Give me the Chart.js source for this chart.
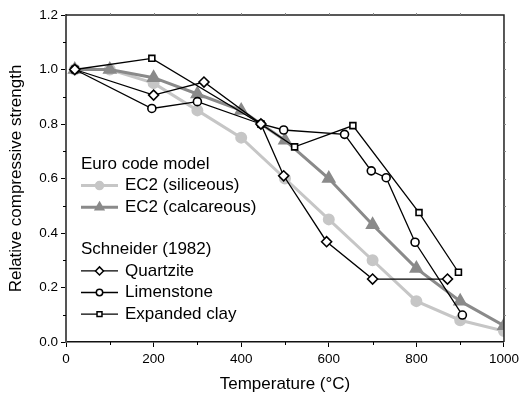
<!DOCTYPE html>
<html>
<head>
<meta charset="utf-8">
<script src="https://cdn.jsdelivr.net/npm/chart.js@4.4.0/dist/chart.umd.min.js"></script>
<style>
  html, body { margin: 0; padding: 0; background: #fff; }
  #wrap { width: 523px; height: 397px; }
</style>
</head>
<body>
<div id="wrap"><canvas id="strengthChart" width="523" height="397"></canvas></div>
<script>
// Euro code model curves
var ec2Temps = [20, 100, 200, 300, 400, 500, 600, 700, 800, 900, 1000];
var ec2Siliceous = [1.0, 1.0, 0.95, 0.85, 0.75, 0.60, 0.45, 0.30, 0.15, 0.08, 0.04];
var ec2Calcareous = [1.0, 1.0, 0.97, 0.91, 0.85, 0.74, 0.60, 0.43, 0.27, 0.15, 0.06];

// Schneider (1982) measurements
var quartziteTemps = [20, 200, 315, 445, 497, 595, 700, 871];
var quartziteVals = [1.0, 0.906, 0.954, 0.80, 0.61, 0.368, 0.231, 0.231];
var limestoneTemps = [20, 196, 300, 445, 497, 636, 697, 731, 797, 905];
var limestoneVals = [1.0, 0.857, 0.882, 0.80, 0.778, 0.762, 0.628, 0.603, 0.366, 0.099];
var clayTemps = [20, 196, 445, 522, 655, 806, 896];
var clayVals = [1.0, 1.041, 0.80, 0.716, 0.794, 0.475, 0.256];

var xTickLabels = ['0', '200', '400', '600', '800', '1000'];
var yTickLabels = ['0.0', '0.2', '0.4', '0.6', '0.8', '1.0', '1.2'];

var FONT = "'Liberation Sans', Arial, sans-serif";
var LIGHT = '#c6c6c6';
var MID = '#8a8a8a';

function pts(xs, ys) {
    return xs.map(function (x, i) { return { x: x, y: ys[i] }; });
}

var legendItems = [
    { header: 'Euro code model' },
    { label: 'EC2 (siliceous)', color: LIGHT, width: 3, style: 'circle', fill: LIGHT, r: 4 },
    { label: 'EC2 (calcareous)', color: MID, width: 3, style: 'triangle', fill: MID, r: 5 },
    { gap: true },
    { header: 'Schneider (1982)' },
    { label: 'Quartzite', color: '#000', width: 1.3, style: 'rectRot', fill: '#fff', r: 4 },
    { label: 'Limenstone', color: '#000', width: 1.3, style: 'circle', fill: '#fff', r: 3.2 },
    { label: 'Expanded clay', color: '#000', width: 1.3, style: 'rect', fill: '#fff', r: 3.5 }
];

// frame, minor ticks and grouped legend
var decorPlugin = {
    id: 'decor',
    afterDraw: function (chart) {
        var ctx = chart.ctx;
        var a = chart.chartArea;
        var xs = chart.scales.x, ys = chart.scales.y;
        ctx.save();
        ctx.strokeStyle = '#000';
        ctx.lineWidth = 1;
        var v, p;
        for (v = 100; v < 1000; v += 200) {
            p = Math.round(xs.getPixelForValue(v)) + 0.5;
            ctx.beginPath(); ctx.moveTo(p, a.bottom); ctx.lineTo(p, a.bottom + 3); ctx.stroke();
        }
        for (v = 1; v < 12; v += 2) {
            p = Math.round(ys.getPixelForValue(v / 10)) + 0.5;
            ctx.beginPath(); ctx.moveTo(a.left, p); ctx.lineTo(a.left - 3, p); ctx.stroke();
        }
        // top and right frame
        ctx.strokeStyle = '#222';
        ctx.lineWidth = 1.5;
        ctx.beginPath();
        ctx.moveTo(a.left, a.top); ctx.lineTo(a.right, a.top); ctx.lineTo(a.right, a.bottom);
        ctx.stroke();
        ctx.strokeStyle = '#888';
        ctx.lineWidth = 1;
        for (v = 100; v < 1000; v += 100) {
            p = Math.round(xs.getPixelForValue(v)) + 0.5;
            ctx.beginPath(); ctx.moveTo(p, a.top); ctx.lineTo(p, a.top - 2); ctx.stroke();
        }
        for (v = 1; v < 12; v += 1) {
            p = Math.round(ys.getPixelForValue(v / 10)) + 0.5;
            ctx.beginPath(); ctx.moveTo(a.right, p); ctx.lineTo(a.right + 2, p); ctx.stroke();
        }

        // legend
        var lx = a.left + 15;
        var ly = a.top + 149;
        var step = 21.6;
        ctx.font = '17px ' + FONT;
        ctx.textBaseline = 'middle';
        ctx.fillStyle = '#000';
        legendItems.forEach(function (it) {
            if (it.header) {
                ctx.fillText(it.header, lx, ly);
            } else if (it.label) {
                ctx.strokeStyle = it.color;
                ctx.lineWidth = it.width;
                ctx.beginPath(); ctx.moveTo(lx, ly); ctx.lineTo(lx + 37, ly); ctx.stroke();
                ctx.fillStyle = it.fill;
                ctx.strokeStyle = it.fill === '#fff' ? '#000' : it.fill;
                ctx.lineWidth = 1.5;
                Chart.helpers.drawPoint(ctx, {
                    pointStyle: it.style, radius: it.r, borderWidth: 1.5, rotation: 0
                }, lx + 18.5, ly);
                ctx.fillStyle = '#000';
                ctx.fillText(it.label, lx + 44, ly);
            }
            ly += it.gap ? step * 0.95 : step;
        });
        ctx.restore();
    }
};

var blackSet = function (label, xs, ys, style, r, order) {
    return {
        label: label,
        data: pts(xs, ys),
        borderColor: '#000',
        borderWidth: 1.3,
        pointStyle: style,
        pointRadius: r,
        pointBackgroundColor: '#fff',
        pointBorderColor: '#000',
        pointBorderWidth: 1.6,
        order: order
    };
};

var ctx = document.getElementById('strengthChart').getContext('2d');
var strengthChart = new Chart(ctx, {
    type: 'line',
    data: {
        datasets: [
            {
                label: 'EC2 (siliceous)',
                data: pts(ec2Temps, ec2Siliceous),
                borderColor: LIGHT,
                borderWidth: 3,
                pointStyle: 'circle',
                pointRadius: 4.5,
                pointBackgroundColor: LIGHT,
                pointBorderColor: LIGHT,
                order: 5
            },
            {
                label: 'EC2 (calcareous)',
                data: pts(ec2Temps, ec2Calcareous),
                borderColor: MID,
                borderWidth: 3,
                pointStyle: 'triangle',
                pointRadius: 5.5,
                pointBackgroundColor: MID,
                pointBorderColor: MID,
                order: 4
            },
            blackSet('Quartzite', quartziteTemps, quartziteVals, 'rectRot', 5, 1),
            blackSet('Limenstone', limestoneTemps, limestoneVals, 'circle', 4, 2),
            blackSet('Expanded clay', clayTemps, clayVals, 'rect', 4.2, 3)
        ]
    },
    plugins: [decorPlugin],
    options: {
        responsive: false,
        animation: false,
        layout: { padding: { top: 15, right: 16, left: 0, bottom: 0 } },
        plugins: {
            legend: { display: false },
            tooltip: { enabled: false }
        },
        scales: {
            x: {
                type: 'linear',
                min: 0,
                max: 1000,
                afterFit: function (s) { s.height = 55; },
                border: { color: '#111', width: 1.5 },
                grid: { drawOnChartArea: false, tickLength: 5, color: '#000' },
                ticks: {
                    stepSize: 200,
                    padding: 4,
                    color: '#000',
                    font: { family: FONT, size: 13.5 },
                    callback: function (v) { return xTickLabels[v / 200]; }
                },
                title: {
                    display: true,
                    text: 'Temperature (°C)',
                    color: '#000',
                    font: { family: FONT, size: 17 },
                    padding: { top: 0, bottom: 2 }
                }
            },
            y: {
                min: 0,
                max: 1.2,
                afterFit: function (s) { s.width = 66; },
                border: { color: '#555', width: 2 },
                grid: { drawOnChartArea: false, tickLength: 5, color: '#000' },
                ticks: {
                    stepSize: 0.2,
                    padding: 3,
                    color: '#000',
                    font: { family: FONT, size: 13.5 },
                    callback: function (v) { return yTickLabels[Math.round(v / 0.2)]; }
                },
                title: {
                    display: true,
                    text: 'Relative compressive strength',
                    color: '#000',
                    font: { family: FONT, size: 17 },
                    padding: { top: 6, bottom: 0 }
                }
            }
        }
    }
});
</script>
</body>
</html>
